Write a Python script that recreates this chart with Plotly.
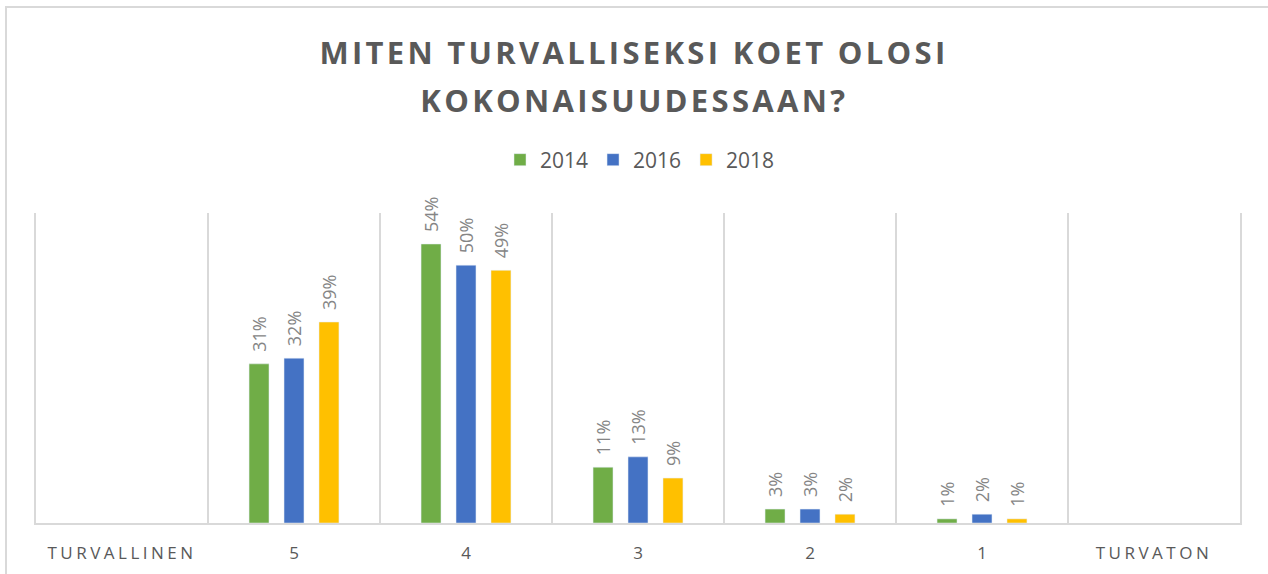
import plotly.graph_objects as go

categories = ["TURVALLINEN", "5", "4", "3", "2", "1", "TURVATON"]
years = ["2014", "2016", "2018"]
values_2014 = [None, 30.8, 54.0, 10.8, 2.7, 0.8, None]
values_2016 = [None, 31.9, 49.9, 12.8, 2.7, 1.7, None]
values_2018 = [None, 38.9, 48.9, 8.7, 1.7, 0.8, None]
colors = ["#70AD47", "#4472C4", "#FFC000"]
title_lines = ["MITEN TURVALLISEKSI KOET OLOSI", "KOKONAISUUDESSAAN?"]

W, H = 1268, 574
L, R, T, B = 36, 28, 213, 51
plot_h = H - T - B
plot_w = W - L - R


def py(pix):
    return (H - B - pix) / plot_h


fig = go.Figure()
for name, vals, col in zip(years, [values_2014, values_2016, values_2018], colors):
    fig.add_trace(go.Bar(
        x=categories, y=vals, name=name, marker_color=col,
        texttemplate="\u2002%{y:.0f}%", textposition="outside", textangle=-90,
        constraintext="none", cliponaxis=False,
        textfont=dict(family="Open Sans", size=18, color="#858585"),
    ))

# chart frame
fig.add_shape(type="rect", xref="paper", yref="paper",
              x0=(6 - L) / plot_w, x1=(W + 10 - L) / plot_w,
              y0=py(H + 10), y1=py(7),
              line=dict(color="#D9D9D9", width=2), fillcolor="rgba(0,0,0,0)", layer="below")

for txt, ypix in zip(title_lines, [52, 100]):
    fig.add_annotation(text=txt, xref="paper", yref="paper", x=(634 - L) / plot_w, y=py(ypix),
                       xanchor="center", yanchor="middle", showarrow=False,
                       font=dict(family="Open Sans", size=31, color="#595959", weight="bold"))

fig.update_layout(
    width=W, height=H,
    margin=dict(l=L, r=R, t=T, b=B),
    paper_bgcolor="white", plot_bgcolor="white",
    barmode="group", bargap=0.39, bargroupgap=0.43,
    legend=dict(orientation="h", x=(640 - L) / plot_w, xanchor="center", y=py(160), yanchor="middle",
                font=dict(family="Open Sans", size=21, color="#595959"), traceorder="normal",
                itemwidth=30, tracegroupgap=0),
    xaxis=dict(type="category", tickson="boundaries", showgrid=True, gridcolor="#D9D9D9", gridwidth=1.5,
               showline=True, linecolor="#D9D9D9", linewidth=2, ticks="", ticklabelstandoff=14,
               tickfont=dict(family="Open Sans", size=17, color="#595959"), automargin=False),
    yaxis=dict(range=[0, 60], showticklabels=False, ticks="", showgrid=False, zeroline=False,
               showline=True, mirror=True, linecolor="#D9D9D9", linewidth=1.5, automargin=False),
    showlegend=True,
)

post = """
document.body.style.margin = '0';
document.body.style.padding = '0';
var gd = document.getElementsByClassName('plotly-graph-div')[0];
function sp(){
  document.querySelectorAll('.xtick text').forEach(function(t){
    var s = t.textContent; if (s.length > 2) { t.style.letterSpacing = '3.5px'; }
  });
  document.querySelectorAll('.annotation-text').forEach(function(t){ t.style.letterSpacing = '3.3px'; });
}
sp();
gd.on('plotly_afterplot', sp);
"""
fig.write_html("out.html", post_script=post, config={"displayModeBar": False})
